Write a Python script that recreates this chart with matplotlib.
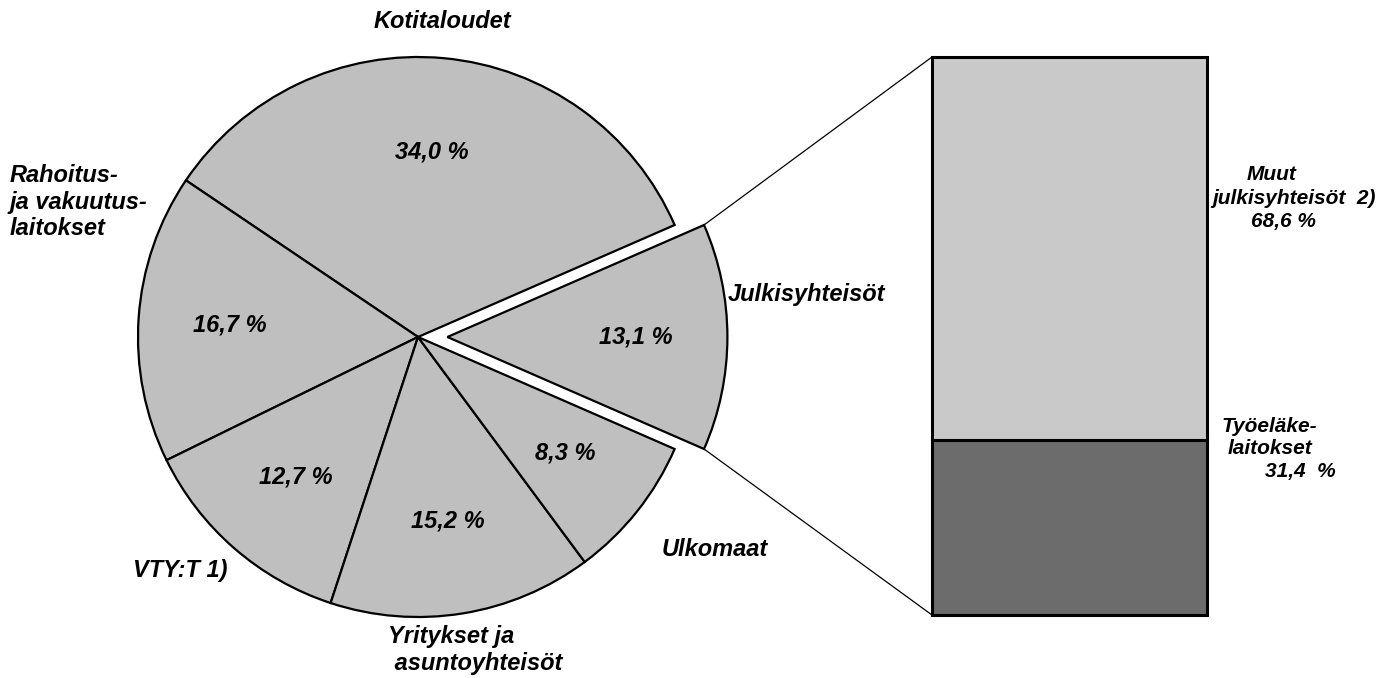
import numpy as np
import matplotlib.pyplot as plt

# pie shares (%), first one is exploded and broken down in the bar
sectors = ["Julkisyhteisöt", "Kotitaloudet", "Rahoitus-\nja vakuutus-\nlaitokset",
           "VTY:T 1)", "Yritykset ja\n asuntoyhteisöt", "Ulkomaat"]
shares = [13.1, 34.0, 16.7, 12.7, 15.2, 8.3]
pct_labels = ["13,1 %", "34,0 %", "16,7 %", "12,7 %", "15,2 %", "8,3 %"]

# breakdown of Julkisyhteisöt
sub_names = ["Työeläke-\nlaitokset", "Muut\njulkisyhteisöt  2)"]
sub_shares = [31.4, 68.6]
sub_pct = ["31,4  %", "68,6 %"]

W, H = 1399, 678
fig = plt.figure(figsize=(W / 100, H / 100), dpi=100)
ax = fig.add_axes([0, 0, 1, 1])

font = dict(family=["Liberation Sans", "DejaVu Sans"], fontweight="bold", fontstyle="italic")

cx, cy, R = 418, 341, 280
start = -shares[0] * 3.6 / 2
explode = np.array([0.105, 0, 0, 0, 0, 0]) * R
wedges, _ = ax.pie(shares, explode=explode, startangle=start, counterclock=True,
                   center=(cx, cy), radius=R, colors=["#bfbfbf"] * len(shares),
                   wedgeprops=dict(edgecolor="black", linewidth=1.6))

# stacked bar for the breakdown
bx, bw, b0, bh = 1069.5, 275, 63, 558
bottoms = np.cumsum([0] + sub_shares[:-1]) / 100 * bh + b0
heights = np.array(sub_shares) / 100 * bh
bars = ax.bar([bx, bx], heights, width=bw, bottom=bottoms,
              color=["#6c6c6c", "#c9c9c9"], edgecolor="black", linewidth=2.2)

# connector lines from exploded wedge to bar
w = wedges[0]
wc = np.array(w.center)
for ang, ybar in [(w.theta2, bottoms[-1] + heights[-1]), (w.theta1, bottoms[0])]:
    p = wc + w.r * np.array([np.cos(np.radians(ang)), np.sin(np.radians(ang))])
    ax.plot([p[0], bx - bw / 2], [p[1], ybar], color="black", lw=0.9)

# percentage labels inside pie
pct_pos = [(636, 337), (432, 152), (230, 325), (296, 477), (448, 521), (565, 453)]
for (x, y), t in zip(pct_pos, pct_labels):
    ax.text(x, H - y, t, ha="center", va="center", fontsize=17, **font)

# sector names
ax.text(442, H - 22, sectors[1], ha="center", va="center", fontsize=17, **font)
ax.text(10, H - 202, sectors[2], ha="left", va="center", fontsize=17, linespacing=1.2, **font)
ax.text(728, H - 295, sectors[0], ha="left", va="center", fontsize=17, **font)
ax.text(133, H - 570, sectors[3], ha="left", va="center", fontsize=17, **font)
ax.text(388, H - 650, sectors[4], ha="left", va="center", fontsize=17, linespacing=1.2, **font)
ax.text(662, H - 550, sectors[5], ha="left", va="center", fontsize=17, **font)

# bar labels, one line at a time
muut = sub_names[1].split("\n")
ax.text(1272, H - 175, muut[0], ha="center", va="center", fontsize=15, **font)
ax.text(1212, H - 199, muut[1], ha="left", va="center", fontsize=15, **font)
ax.text(1283, H - 221, sub_pct[1], ha="center", va="center", fontsize=15, **font)
tyo = sub_names[0].split("\n")
ax.text(1222, H - 427, tyo[0], ha="left", va="center", fontsize=15, **font)
ax.text(1228, H - 449, tyo[1], ha="left", va="center", fontsize=15, **font)
ax.text(1300, H - 471, sub_pct[0], ha="center", va="center", fontsize=15, **font)

ax.set_xlim(0, W)
ax.set_ylim(0, H)
ax.set_aspect("equal")
ax.axis("off")

fig.savefig("out.png", dpi=100)
